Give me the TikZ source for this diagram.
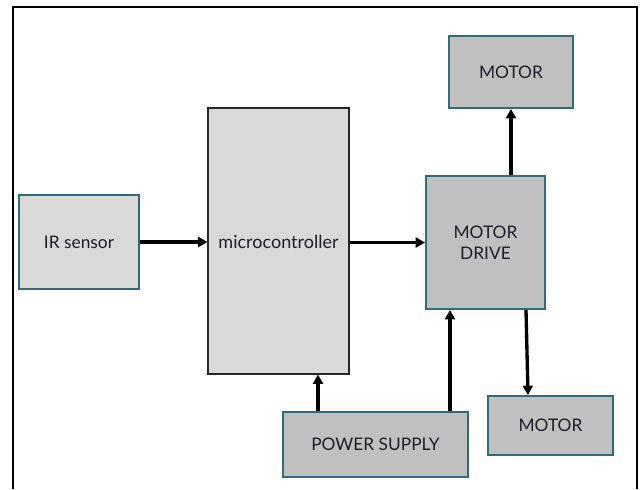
\documentclass[tikz,border=0pt]{standalone}
\usepackage{fontspec}
\setmainfont{Lato}
\usetikzlibrary{arrows.meta}
\definecolor{teal1}{RGB}{46,108,124}
\definecolor{lgray}{RGB}{217,217,217}
\definecolor{mgray}{RGB}{192,192,192}
\definecolor{txt}{RGB}{30,30,40}
\def\px{0.75pt}
\begin{document}
\begin{tikzpicture}[x=0.75pt,y=-0.75pt,
  box/.style={draw=teal1,line width=1.5pt,fill=mgray,inner sep=0pt,text=txt,font=\fontsize{13}{16}\selectfont,align=center},
  lbox/.style={box,fill=lgray},
  mbox/.style={draw=black!85,line width=0.8pt,fill=lgray,inner sep=0pt},
  arr/.style={line width=2.5pt,-{Triangle[length=7pt,width=7.5pt]}}]
\useasboundingbox (0,0) rectangle (641,489);
\draw[line width=1.6pt] (13,489) -- (13,7) -- (637,7) -- (637,489);
\node[lbox,minimum width=120*\px,minimum height=94*\px] (ir) at (79,242) {IR sensor};
\node[mbox,minimum width=141*\px,minimum height=266*\px] (mcu) at (278.5,241) {};
\node[text=txt,font=\fontsize{13.5}{16}\selectfont] (mcut) at (278.5,242) {microcontroller};
\node[box,minimum width=119*\px,minimum height=133*\px] (drive) at (485.5,242.5) {MOTOR\\DRIVE};
\node[box,minimum width=124*\px,minimum height=72*\px] (m1) at (511,72) {MOTOR};
\node[box,minimum width=125*\px,minimum height=59*\px] (m2) at (550.5,425.5) {MOTOR};
\node[box,minimum width=185*\px,minimum height=65*\px] (ps) at (375.5,444.5) {POWER SUPPLY};
\draw[arr] (ir.east) -- (ir.east -| mcu.west);
\draw[arr] (drive.west -| mcu.east) -- (drive.west);
\draw[arr] ([xshift=36*\px]ps.north west) -- ([xshift=36*\px]ps.north west |- mcu.south);
\draw[arr] ([xshift=25*\px]drive.south west |- ps.north) -- ([xshift=25*\px]drive.south west);
\draw[arr] (m1.south |- drive.north) -- (m1.south);
\draw[arr] ([xshift=101*\px]drive.south west) -- ([xshift=41*\px]m2.north west);
\end{tikzpicture}
\end{document}
